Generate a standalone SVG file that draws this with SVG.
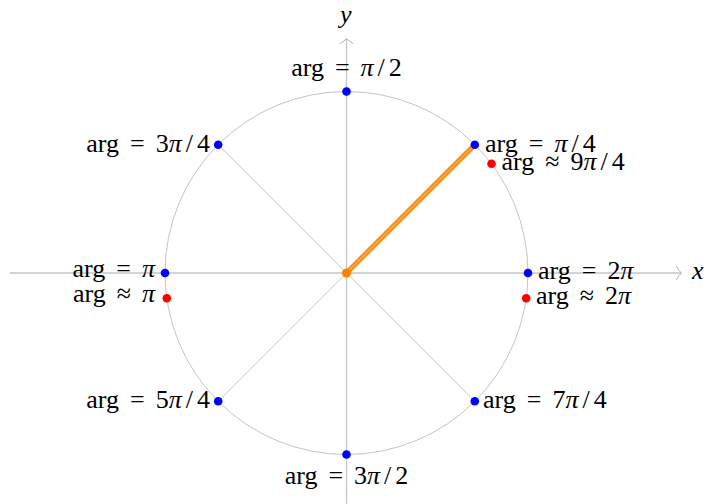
<svg xmlns="http://www.w3.org/2000/svg" width="707" height="504" viewBox="0 0 707 504">
<style>
.ax{stroke:#c4c4c4;stroke-width:1.3;fill:none}
.gl{stroke:#c4c4c4;stroke-width:1;fill:none}
.ah{stroke:#b0b0b0;stroke-width:1;fill:none;stroke-linecap:round}
.b{fill:#0000ff}
.r{fill:#ff0000}
</style>
<rect width="707" height="504" fill="#fff"/>
<g id="axes">
<line class="ax" x1="10" y1="273" x2="681" y2="273"/>
<path class="ah" d="M676.5,266.5 Q679,271 681.5,273 Q679,275 676.5,279.5"/>
<line class="ax" x1="346.5" y1="504" x2="346.5" y2="39"/>
<path class="ah" d="M340,43.5 Q344.5,41 346.5,38.5 Q348.5,41 353,43.5"/>
<text x="692" y="279" font-family="Liberation Serif, serif" font-size="26" font-style="italic">x</text>
<text x="340" y="23" font-family="Liberation Serif, serif" font-size="26" font-style="italic">y</text>
</g>
<g id="connectors">
<circle class="gl" cx="346.5" cy="273" r="181.5"/>
<line class="gl" x1="346.5" y1="273" x2="218.2" y2="144.7"/>
<line class="gl" x1="346.5" y1="273" x2="218.2" y2="401.3"/>
<line class="gl" x1="346.5" y1="273" x2="474.8" y2="401.3"/>
<line class="gl" x1="346.5" y1="273" x2="474.8" y2="144.7"/>
<line x1="346.5" y1="273" x2="474.8" y2="144.7" stroke="#ef8a10" stroke-width="5"/>
<line x1="346.5" y1="273" x2="474.8" y2="144.7" stroke="#ffa232" stroke-width="2"/>
</g>
<g id="center"><circle cx="346.5" cy="273" r="4.5" fill="#ff8000"/></g>
<g id="p0"><circle class="b" cx="528" cy="273" r="4.3"/><text x="538" y="279" font-family="Liberation Serif, serif" font-size="26">arg<tspan dx="11">=</tspan><tspan dx="11">2</tspan><tspan font-style="italic">π</tspan></text></g>
<g id="p1"><circle class="b" cx="474.8" cy="144.7" r="4.3"/><text x="485" y="152" font-family="Liberation Serif, serif" font-size="26">arg<tspan dx="11">=</tspan><tspan dx="11" font-style="italic">π</tspan><tspan dx="4">/</tspan><tspan dx="4">4</tspan></text></g>
<g id="p2"><circle class="b" cx="346.5" cy="91.5" r="4.3"/><text x="346.5" y="76" text-anchor="middle" font-family="Liberation Serif, serif" font-size="26">arg<tspan dx="11">=</tspan><tspan dx="11" font-style="italic">π</tspan><tspan dx="4">/</tspan><tspan dx="4">2</tspan></text></g>
<g id="p3"><circle class="b" cx="218.2" cy="144.7" r="4.3"/><text x="210" y="151.5" text-anchor="end" font-family="Liberation Serif, serif" font-size="26">arg<tspan dx="11">=</tspan><tspan dx="11">3</tspan><tspan font-style="italic">π</tspan><tspan dx="4">/</tspan><tspan dx="4">4</tspan></text></g>
<g id="p4"><circle class="b" cx="165" cy="273" r="4.3"/><text x="155" y="276.5" text-anchor="end" font-family="Liberation Serif, serif" font-size="26">arg<tspan dx="11">=</tspan><tspan dx="11" font-style="italic">π</tspan></text></g>
<g id="p5"><circle class="b" cx="218.2" cy="401.3" r="4.3"/><text x="210" y="408" text-anchor="end" font-family="Liberation Serif, serif" font-size="26">arg<tspan dx="11">=</tspan><tspan dx="11">5</tspan><tspan font-style="italic">π</tspan><tspan dx="4">/</tspan><tspan dx="4">4</tspan></text></g>
<g id="p6"><circle class="b" cx="346.5" cy="454.5" r="4.3"/><text x="346.5" y="484" text-anchor="middle" font-family="Liberation Serif, serif" font-size="26">arg<tspan dx="11">=</tspan><tspan dx="11">3</tspan><tspan font-style="italic">π</tspan><tspan dx="4">/</tspan><tspan dx="4">2</tspan></text></g>
<g id="p7"><circle class="b" cx="474.8" cy="401.3" r="4.3"/><text x="483" y="408" font-family="Liberation Serif, serif" font-size="26">arg<tspan dx="11">=</tspan><tspan dx="11">7</tspan><tspan font-style="italic">π</tspan><tspan dx="4">/</tspan><tspan dx="4">4</tspan></text></g>
<g id="q0"><circle class="r" cx="526.2" cy="298.3" r="4.3"/><text x="536" y="304" font-family="Liberation Serif, serif" font-size="26">arg<tspan dx="11">≈</tspan><tspan dx="11">2</tspan><tspan font-style="italic">π</tspan></text></g>
<g id="q1"><circle class="r" cx="491.5" cy="163.8" r="4.3"/><text x="501.5" y="169.5" font-family="Liberation Serif, serif" font-size="26">arg<tspan dx="11">≈</tspan><tspan dx="11">9</tspan><tspan font-style="italic">π</tspan><tspan dx="4">/</tspan><tspan dx="4">4</tspan></text></g>
<g id="q2"><circle class="r" cx="166.8" cy="298.3" r="4.3"/><text x="155" y="302" text-anchor="end" font-family="Liberation Serif, serif" font-size="26">arg<tspan dx="11">≈</tspan><tspan dx="11" font-style="italic">π</tspan></text></g>
</svg>
